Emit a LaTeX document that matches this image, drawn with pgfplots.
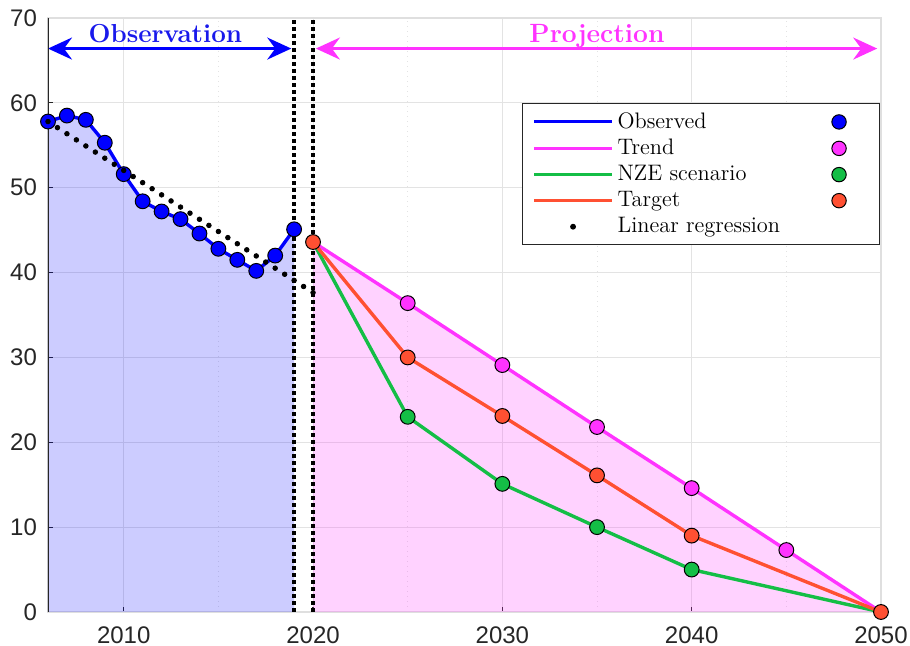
\documentclass[border=0pt]{standalone}
\usepackage{fontspec}
\usepackage{pgfplots}
\pgfplotsset{compat=1.18}
\usetikzlibrary{arrows.meta}
\newfontfamily\ticksfont{Liberation Sans}

\definecolor{obsblue}{RGB}{0,0,255}
\definecolor{obstext}{RGB}{25,25,235}
\definecolor{trendmag}{RGB}{255,51,255}
\definecolor{nzegreen}{RGB}{20,190,70}
\definecolor{targetred}{RGB}{255,80,50}
\definecolor{tickgray}{RGB}{38,38,38}

\begin{document}
\begin{tikzpicture}
\begin{axis}[
    scale only axis,
    width=416.5pt, height=297pt,
    xmin=2006, xmax=2050,
    ymin=0, ymax=70,
    xtick={2010,2020,2030,2040,2050},
    minor xtick={2015,2025,2035,2045},
    ytick={0,10,...,70},
    xmajorgrids, xminorgrids, ymajorgrids,
    major grid style={gray!22, line width=0.5pt},
    minor grid style={gray!22, line width=0.5pt, dotted},
    axis line style={draw=gray!25, line width=0.6pt},
    tick align=inside,
    xtick pos=bottom, ytick pos=left,
    major tick length=2.5pt, minor tick length=0pt,
    tick style={tickgray, line width=0.6pt},
    /pgf/number format/1000 sep={},
    /pgf/number format/assume math mode=true,
    ticklabel style={font=\ticksfont\fontsize{12}{14}\selectfont, text=tickgray},
    xticklabel style={yshift=-4pt},
    yticklabel style={xshift=-2pt},
    legend style={
        at={(rel axis cs:0.999,0.857)}, anchor=north east,
        draw=black!85, line width=0.6pt,
        font=\fontsize{11.2}{13}\selectfont,
        row sep=-0.1pt, inner xsep=5pt, inner ysep=2.5pt,
    },
    legend cell align=left,
]
\coordinate (ll) at (rel axis cs:0,0);
% shaded periods
\addplot[draw=none, fill=obsblue, fill opacity=0.2, forget plot] coordinates {
(2006,57.8) (2007,58.5) (2008,58.0) (2009,55.3) (2010,51.6) (2011,48.4) (2012,47.2)
(2013,46.3) (2014,44.6) (2015,42.8) (2016,41.5) (2017,40.2) (2018,42.0) (2019,45.1)
} \closedcycle;
\addplot[draw=none, fill=trendmag, fill opacity=0.22, forget plot] coordinates {
(2020,43.6) (2025,36.4) (2030,29.1) (2035,21.8) (2040,14.6) (2045,7.3) (2050,0)
} \closedcycle;

% separators
\addplot[black, line width=2pt, dash pattern=on 2pt off 1.5pt, forget plot] coordinates {(2019,0) (2019,70)};
\addplot[black, line width=2pt, dash pattern=on 2pt off 1.5pt, forget plot] coordinates {(2020,0) (2020,70)};

% projections
\addplot[trendmag, line width=1.7pt, mark=*, mark indices={2,3,4,5,6},
    mark size=3.7pt, mark options={fill=trendmag, draw=black, line width=0.5pt}, forget plot]
coordinates {(2020,43.6) (2025,36.4) (2030,29.1) (2035,21.8) (2040,14.6) (2045,7.3) (2050,0)};
\addplot[nzegreen, line width=1.7pt, mark=*, mark indices={2,3,4,5},
    mark size=3.7pt, mark options={fill=nzegreen, draw=black, line width=0.5pt}, forget plot]
coordinates {(2020,43.6) (2025,23.0) (2030,15.1) (2035,10.0) (2040,5.0) (2050,0)};
\addplot[targetred, line width=1.7pt, mark=*,
    mark size=3.7pt, mark options={fill=targetred, draw=black, line width=0.5pt}, forget plot]
coordinates {(2020,43.6) (2025,30.0) (2030,23.1) (2035,16.1) (2040,9.0) (2050,0)};

% observed
\addplot[obsblue, line width=1.7pt, mark=*,
    mark size=3.7pt, mark options={fill=obsblue, draw=black, line width=0.5pt}, forget plot]
coordinates {
(2006,57.8) (2007,58.5) (2008,58.0) (2009,55.3) (2010,51.6) (2011,48.4) (2012,47.2)
(2013,46.3) (2014,44.6) (2015,42.8) (2016,41.5) (2017,40.2) (2018,42.0) (2019,45.1)
};

% linear regression
\addplot[only marks, mark=*, mark size=1.15pt, black, forget plot] coordinates {
(2006,57.80) (2006.5,57.08) (2007,56.36) (2007.5,55.64) (2008,54.92) (2008.5,54.20)
(2009,53.48) (2009.5,52.76) (2010,52.04) (2010.5,51.32) (2011,50.60) (2011.5,49.88)
(2012,49.16) (2012.5,48.44) (2013,47.72) (2013.5,47.00) (2014,46.28) (2014.5,45.56)
(2015,44.84) (2015.5,44.12) (2016,43.40) (2016.5,42.68) (2017,41.96) (2017.5,41.24)
(2018,40.52) (2018.5,39.80) (2019,39.08) (2019.5,38.36) (2020,37.64)
};

% period arrows
\draw[obsblue, line width=1.3pt, {Stealth[length=12pt,width=11pt,inset=4pt]}-{Stealth[length=12pt,width=11pt,inset=4pt]}]
    (axis cs:2006,66.4) -- (axis cs:2018.85,66.4);
\node[anchor=base, text=obstext, font=\fontsize{13}{15}\selectfont\bfseries] at (axis cs:2012.2,67.1) {Observation};
\draw[trendmag, line width=1.3pt, {Stealth[length=12pt,width=11pt,inset=4pt]}-{Stealth[length=12pt,width=11pt,inset=4pt]}]
    (axis cs:2020.15,66.4) -- (axis cs:2049.8,66.4);
\node[anchor=base, text=trendmag, font=\fontsize{13.2}{15}\selectfont\bfseries] at (axis cs:2035,67.1) {Projection};

\draw[tickgray, line width=0.7pt] (rel axis cs:0,0) -- (rel axis cs:0,1);

% legend
\addlegendimage{legend image code/.code={
    \draw[obsblue, line width=1.5pt] (0pt,0pt) -- (39pt,0pt);
    \draw[overlay, fill=obsblue, draw=black, line width=0.5pt] (152.5pt,0pt) circle (3.6pt);}}
\addlegendentry{\makebox[124pt][l]{Observed}}
\addlegendimage{legend image code/.code={
    \draw[trendmag, line width=1.5pt] (0pt,0pt) -- (39pt,0pt);
    \draw[overlay, fill=trendmag, draw=black, line width=0.5pt] (152.5pt,0pt) circle (3.6pt);}}
\addlegendentry{\makebox[124pt][l]{Trend}}
\addlegendimage{legend image code/.code={
    \draw[nzegreen, line width=1.5pt] (0pt,0pt) -- (39pt,0pt);
    \draw[overlay, fill=nzegreen, draw=black, line width=0.5pt] (152.5pt,0pt) circle (3.6pt);}}
\addlegendentry{\makebox[124pt][l]{NZE scenario}}
\addlegendimage{legend image code/.code={
    \draw[targetred, line width=1.5pt] (0pt,0pt) -- (39pt,0pt);
    \draw[overlay, fill=targetred, draw=black, line width=0.5pt] (152.5pt,0pt) circle (3.6pt);}}
\addlegendentry{\makebox[124pt][l]{Target}}
\addlegendimage{legend image code/.code={
    \path[draw=none] (0pt,0pt) -- (39pt,0pt);
    \fill[black] (19.5pt,0pt) circle (1.15pt);}}
\addlegendentry{\makebox[124pt][l]{Linear regression}}
\end{axis}
\pgfresetboundingbox
\path (ll) ++(-24pt,-17pt) rectangle ++(455pt,323pt);
\end{tikzpicture}
\end{document}
